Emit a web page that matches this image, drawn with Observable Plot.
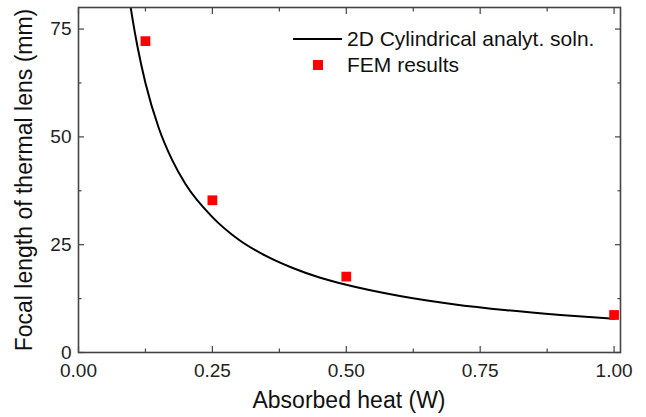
<!DOCTYPE html>
<html><head><meta charset="utf-8">
<script src="https://cdn.jsdelivr.net/npm/d3@7"></script>
<script src="https://cdn.jsdelivr.net/npm/@observablehq/plot@0.6"></script>
<style>
body{margin:0;background:#fff;font-family:"Liberation Sans",Arial,sans-serif}
#wrap{position:relative;width:646px;height:417px}
#legend{position:absolute;left:292px;top:26px;font-size:21px;color:#111;line-height:26px}
#legend div{display:flex;align-items:center}
#legend svg{margin-right:5px}
</style></head><body><div id="wrap"><div id="legend"></div></div>
<script>
// analytic curve
const curveP = [0.095, 0.1, 0.11, 0.125, 0.15, 0.175, 0.2, 0.25, 0.3, 0.35, 0.4, 0.45, 0.5, 0.6, 0.7, 0.8, 0.9, 1.0];
const curveF = [82, 78, 71, 62.5, 52, 44.6, 39, 31.4, 26.1, 22.4, 19.6, 17.4, 15.7, 13.1, 11.2, 9.8, 8.7, 7.8];
// FEM results
const femP = [0.125, 0.25, 0.5, 1.0];
const femF = [72.2, 35.3, 17.6, 8.7];
// ticks
const xTicks = [0, 0.25, 0.5, 0.75, 1.0];
const xMinor = [0.125, 0.375, 0.625, 0.875];
const yTicks = [0, 25, 50, 75];
const yMinor = [12.5, 37.5, 62.5];
const legendLabels = ["2D Cylindrical analyt. soln.", "FEM results"];

const curve = curveP.map((p, i) => ({p, f: curveF[i]}));
const fem = femP.map((p, i) => ({p, f: femF[i]}));
const axisColor = "#444";
const none = () => "";

const plot = Plot.plot({
  width: 646, height: 417,
  marginLeft: 78, marginRight: 26, marginTop: 7, marginBottom: 65,
  style: {fontFamily: "Liberation Sans, Arial, sans-serif", fontSize: "19px", color: "#222", background: "#fff"},
  x: {domain: [0, 1.012]},
  y: {domain: [0, 80]},
  marks: [
    Plot.line(curve, {x: "p", y: "f", stroke: "#000", strokeWidth: 2, curve: "monotone-x", clip: true}),
    Plot.dot(fem, {x: "p", y: "f", symbol: "square", r: 5.5, fill: "#ff0000", stroke: "none"}),
    Plot.axisX({anchor: "bottom", ticks: xTicks, tickFormat: d3.format(".2f"), tickSize: -6, tickPadding: 17, stroke: axisColor, strokeWidth: 1.2, label: null, fontSize: 19}),
    Plot.axisX({anchor: "bottom", ticks: xMinor, tickFormat: none, tickSize: -3.5, stroke: axisColor, strokeWidth: 1.2, label: null}),
    Plot.axisX({anchor: "top", ticks: xTicks, tickFormat: none, tickSize: -6, stroke: axisColor, strokeWidth: 1.2, label: null}),
    Plot.axisX({anchor: "top", ticks: xMinor, tickFormat: none, tickSize: -3.5, stroke: axisColor, strokeWidth: 1.2, label: null}),
    Plot.axisY({anchor: "left", ticks: yTicks, tickFormat: d3.format("d"), tickSize: -6, tickPadding: 13, stroke: axisColor, strokeWidth: 1.2, label: null, fontSize: 19}),
    Plot.axisY({anchor: "left", ticks: yMinor, tickFormat: none, tickSize: -3.5, stroke: axisColor, strokeWidth: 1.2, label: null}),
    Plot.axisY({anchor: "right", ticks: yTicks, tickFormat: none, tickSize: -6, stroke: axisColor, strokeWidth: 1.2, label: null}),
    Plot.axisY({anchor: "right", ticks: yMinor, tickFormat: none, tickSize: -3.5, stroke: axisColor, strokeWidth: 1.2, label: null}),
    Plot.frame({stroke: axisColor, strokeWidth: 1.6})
  ]
});
document.getElementById("wrap").prepend(plot);

const svg = d3.select(plot);
svg.append("text")
  .attr("x", 349).attr("y", 408)
  .attr("text-anchor", "middle").attr("font-size", 23).attr("fill", "#111")
  .text("Absorbed heat (W)");
svg.append("text")
  .attr("transform", `translate(32,180) rotate(-90)`)
  .attr("text-anchor", "middle").attr("font-size", 23).attr("fill", "#111")
  .text("Focal length of thermal lens (mm)");

const leg = d3.select("#legend");
const r1 = leg.append("div");
r1.append("svg").attr("width", 50).attr("height", 10)
  .append("line").attr("x1", 1).attr("x2", 50).attr("y1", 5).attr("y2", 5).attr("stroke", "#000").attr("stroke-width", 2);
r1.append("span").text(legendLabels[0]);
const r2 = leg.append("div");
const s2 = r2.append("svg").attr("width", 50).attr("height", 12);
s2.append("rect").attr("x", 21).attr("y", 1).attr("width", 10).attr("height", 10).attr("fill", "#ff0000");
r2.append("span").text(legendLabels[1]);
</script></body></html>
